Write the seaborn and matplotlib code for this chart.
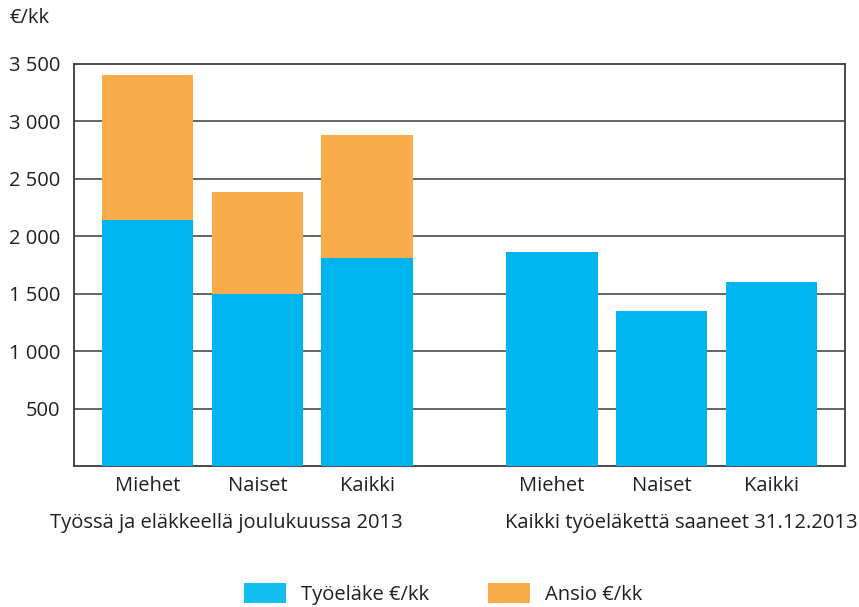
import matplotlib
matplotlib.use("Agg")
import matplotlib.pyplot as plt
import seaborn as sns
import pandas as pd
from matplotlib.patches import Patch

categories = ["Miehet", "Naiset", "Kaikki", "Miehet", "Naiset", "Kaikki"]
groups = ["Työssä ja eläkkeellä joulukuussa 2013", "Kaikki työeläkettä saaneet 31.12.2013"]
tyoelake = [2142, 1498, 1811, 1863, 1350, 1602]
ansio = [1262, 888, 1071, 0, 0, 0]
yticks = [500, 1000, 1500, 2000, 2500, 3000, 3500]
ytick_labels = ["500", "1 000", "1 500", "2 000", "2 500", "3 000", "3 500"]
legend_labels = ["Työeläke €/kk", "Ansio €/kk"]

positions = [0, 1, 2, 3.68, 4.68, 5.68]
total = [t + a for t, a in zip(tyoelake, ansio)]
df = pd.DataFrame({"pos": positions, "tyo": tyoelake, "total": total})

BLUE = "#00B5EF"
ORANGE = "#F9AC4B"
TXT = "#231f20"
FS = 14.5

sns.set_theme(style="white")
plt.rcParams["font.family"] = ["Open Sans", "DejaVu Sans"]

fig = plt.figure(figsize=(8.59, 6.07), dpi=100)
ax = fig.add_axes([74 / 859, 1 - 466 / 607, (845 - 74) / 859, (466 - 64) / 607])

sns.barplot(data=df, x="pos", y="total", native_scale=True, width=0.836,
            color=ORANGE, saturation=1, ax=ax, zorder=2, linewidth=0)
sns.barplot(data=df, x="pos", y="tyo", native_scale=True, width=0.836,
            color=BLUE, saturation=1, ax=ax, zorder=3, linewidth=0)

ax.set_xlim(-0.67, 6.35)
ax.set_ylim(0, 3500)
ax.set_yticks(yticks)
ax.set_yticklabels(ytick_labels, fontsize=FS, color=TXT)
for y in yticks[:-1]:
    ax.axhline(y, color="#3a3a3a", lw=1.1, zorder=1)
ax.set_xticks(positions)
ax.set_xticklabels(categories, fontsize=FS, color=TXT)
ax.tick_params(axis="y", length=0, pad=10)
ax.tick_params(axis="x", length=0, pad=7)
ax.set_xlabel("")
ax.set_ylabel("")
for s in ax.spines.values():
    s.set_color("#3a3a3a")
    s.set_linewidth(1.3)
    s.set_visible(True)

fig.text(10 / 859, 1 - 18 / 607, "€/kk", fontsize=FS, color=TXT, ha="left", va="center")
fig.text(226 / 859, 1 - 523 / 607, groups[0], fontsize=FS, color=TXT, ha="center", va="center")
fig.text(681 / 859, 1 - 523 / 607, groups[1], fontsize=FS, color=TXT, ha="center", va="center")

handles = [Patch(facecolor="#12BFEF", edgecolor="none"), Patch(facecolor=ORANGE, edgecolor="none")]
leg = fig.legend(handles, legend_labels, loc="center", bbox_to_anchor=(443 / 859, 1 - 594 / 607),
                 ncol=2, frameon=False, fontsize=FS, handlelength=2.1, handleheight=1.15,
                 columnspacing=2.9, handletextpad=0.75)
for t in leg.get_texts():
    t.set_color(TXT)

fig.savefig("out.png", dpi=100)
